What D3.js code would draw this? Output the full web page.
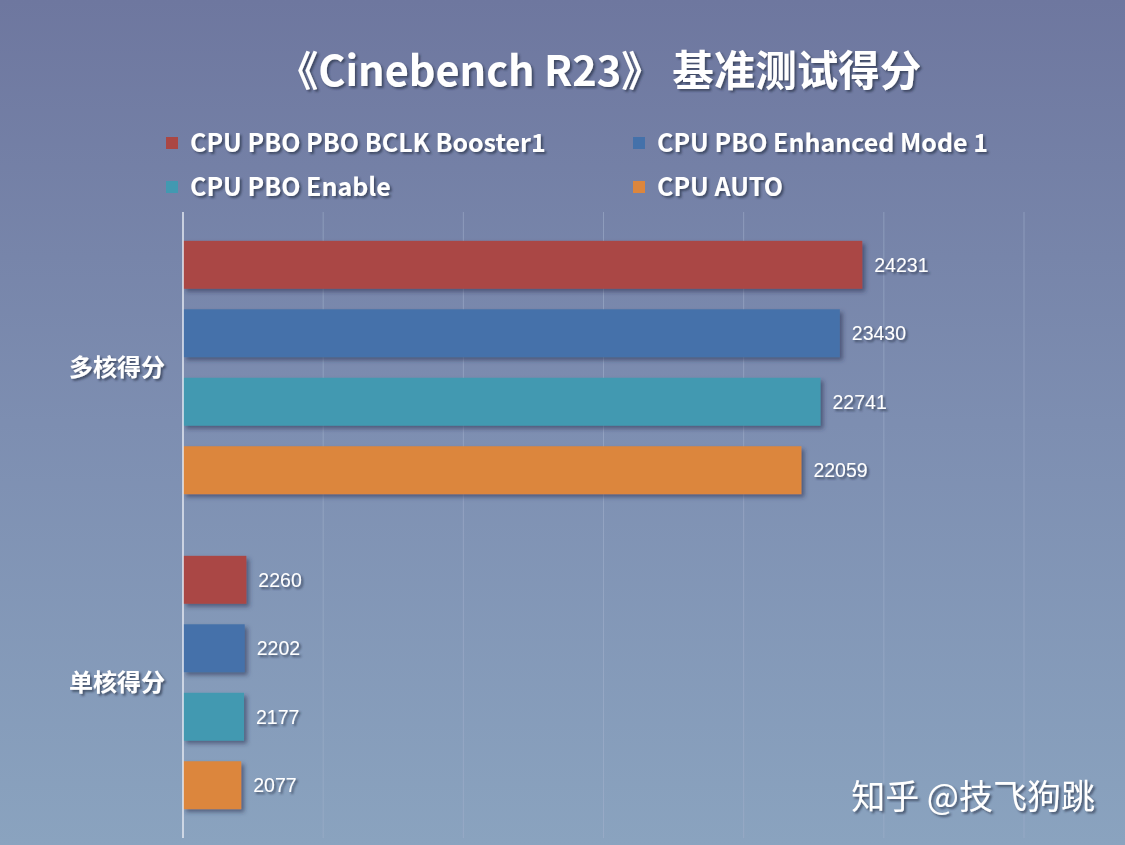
<!DOCTYPE html>
<html>
<head>
<meta charset="utf-8">
<script src="https://cdn.jsdelivr.net/npm/d3@7"></script>
<style>
  body { margin: 0; padding: 0; overflow: hidden; }
  svg { display: block; }
</style>
</head>
<body>
<div id="chart"></div>
<script>
var svgWidth = 1125;
var svgHeight = 845;

// data
var groups = ["多核得分", "单核得分"];
var seriesNames = ["CPU PBO PBO BCLK Booster1", "CPU PBO Enhanced Mode 1", "CPU PBO Enable", "CPU AUTO"];
var multiScores = [24231, 23430, 22741, 22059];
var singleScores = [2260, 2202, 2177, 2077];
var xTicks = [0, 5000, 10000, 15000, 20000, 25000, 30000];
var seriesColors = ["#aa4744", "#4471aa", "#4299b1", "#dc863d"];

var rows = [];
groups.forEach(function(g, gi) {
  var vals = gi === 0 ? multiScores : singleScores;
  seriesNames.forEach(function(s, si) {
    rows.push({ group: g, series: s, value: vals[si], color: seriesColors[si] });
  });
});

var svg = d3.select("#chart")
  .append("svg")
  .attr("width", svgWidth)
  .attr("height", svgHeight);

var defs = svg.append("defs");

var grad = defs.append("linearGradient")
  .attr("id", "bg")
  .attr("x1", 0).attr("y1", 0).attr("x2", 0).attr("y2", 1);
grad.append("stop").attr("offset", "0%").attr("stop-color", "#6e779f");
grad.append("stop").attr("offset", "50%").attr("stop-color", "#7d8eb1");
grad.append("stop").attr("offset", "100%").attr("stop-color", "#8aa3bf");

var barShadow = defs.append("filter").attr("id", "barShadow")
  .attr("x", "-5%").attr("y", "-20%").attr("width", "120%").attr("height", "150%");
barShadow.append("feDropShadow")
  .attr("dx", 3).attr("dy", 3).attr("stdDeviation", 2)
  .attr("flood-color", "#2a3350").attr("flood-opacity", 0.55);

var textShadow = defs.append("filter").attr("id", "textShadow")
  .attr("x", "-10%").attr("y", "-20%").attr("width", "130%").attr("height", "150%");
textShadow.append("feDropShadow")
  .attr("dx", 2).attr("dy", 2).attr("stdDeviation", 1)
  .attr("flood-color", "#2a3048").attr("flood-opacity", 0.7);

svg.append("rect")
  .attr("width", svgWidth)
  .attr("height", svgHeight)
  .attr("fill", "url(#bg)");

// scales
var xScale = d3.scaleLinear()
  .domain([0, 30000])
  .range([183, 1024]);

var y0 = d3.scaleBand()
  .domain(groups)
  .range([210, 840])
  .padding(0);

var y1 = d3.scaleBand()
  .domain(seriesNames)
  .range([0, y0.bandwidth()])
  .paddingInner(0.3)
  .paddingOuter(0.45);

// grid lines
svg.append("g")
  .selectAll("line")
  .data(xTicks.slice(1))
  .enter()
  .append("line")
  .attr("x1", d => xScale(d))
  .attr("x2", d => xScale(d))
  .attr("y1", 212)
  .attr("y2", 838)
  .attr("stroke", "#a3b0cc")
  .attr("stroke-opacity", 0.55)
  .attr("stroke-width", 1);

// bars
var bars = svg.append("g")
  .selectAll("rect")
  .data(rows)
  .enter()
  .append("rect")
  .attr("x", xScale(0))
  .attr("y", d => y0(d.group) + y1(d.series))
  .attr("width", d => xScale(d.value) - xScale(0))
  .attr("height", y1.bandwidth())
  .attr("fill", d => d.color)
  .attr("filter", "url(#barShadow)");

// y axis line
svg.append("line")
  .attr("x1", xScale(0)).attr("x2", xScale(0))
  .attr("y1", 212).attr("y2", 838)
  .attr("stroke", "#e4e8f2")
  .attr("stroke-width", 1.5);

// value labels
svg.append("g")
  .selectAll("text")
  .data(rows)
  .enter()
  .append("text")
  .attr("x", d => xScale(d.value) + 12)
  .attr("y", d => y0(d.group) + y1(d.series) + y1.bandwidth() / 2)
  .attr("dy", "0.36em")
  .attr("fill", "#ffffff")
  .attr("font-family", "Liberation Sans, Arial, sans-serif")
  .attr("font-size", "19.5px")
  .attr("filter", "url(#textShadow)")
  .text(d => d.value);

// category labels
svg.append("g")
  .selectAll("text")
  .data(groups)
  .enter()
  .append("text")
  .attr("x", 165)
  .attr("y", d => y0(d) + y0.bandwidth() / 2)
  .attr("dy", "0.36em")
  .attr("text-anchor", "end")
  .attr("fill", "#ffffff")
  .attr("font-family", "Noto Sans CJK SC, sans-serif")
  .attr("font-weight", "bold")
  .attr("font-size", "24px")
  .attr("filter", "url(#textShadow)")
  .text(d => d);

// title
svg.append("text")
  .attr("x", 599)
  .attr("y", 71)
  .attr("dy", "0.36em")
  .attr("text-anchor", "middle")
  .attr("fill", "#ffffff")
  .attr("font-family", "Noto Sans CJK SC, sans-serif")
  .attr("font-weight", "bold")
  .attr("font-size", "41.5px")
  .attr("filter", "url(#textShadow)")
  .text("《Cinebench R23》 基准测试得分");

// legend
var legendPos = [[166, 143], [633, 143], [166, 187], [633, 187]];
var legend = svg.append("g")
  .selectAll("g")
  .data(seriesNames)
  .enter()
  .append("g")
  .attr("transform", (d, i) => `translate(${legendPos[i][0]}, ${legendPos[i][1]})`);

legend.append("rect")
  .attr("x", 0).attr("y", -6)
  .attr("width", 12).attr("height", 12)
  .attr("fill", (d, i) => seriesColors[i]);

legend.append("text")
  .attr("x", 24)
  .attr("y", 0)
  .attr("dy", "0.36em")
  .attr("fill", "#ffffff")
  .attr("font-family", "Noto Sans CJK SC, sans-serif")
  .attr("font-weight", "bold")
  .attr("font-size", "25px")
  .attr("filter", "url(#textShadow)")
  .text(d => d);

// watermark
svg.append("text")
  .attr("x", 1095)
  .attr("y", 797)
  .attr("dy", "0.36em")
  .attr("text-anchor", "end")
  .attr("fill", "#ffffff")
  .attr("font-family", "Noto Sans CJK SC, sans-serif")
  .attr("font-size", "34px")
  .attr("filter", "url(#textShadow)")
  .text("知乎 @技飞狗跳");
</script>
</body>
</html>
